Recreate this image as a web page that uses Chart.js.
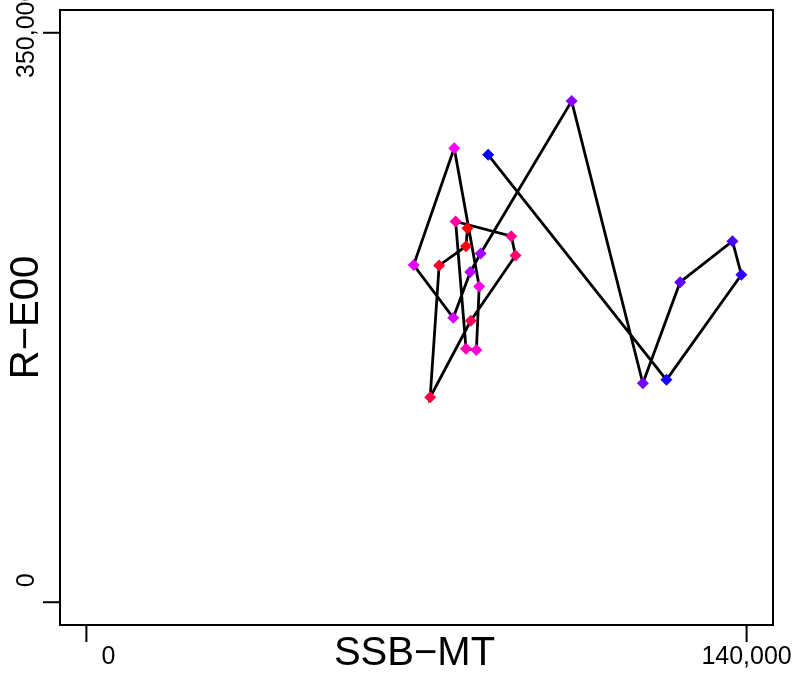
<!DOCTYPE html>
<html>
<head>
<meta charset="utf-8">
<script src="https://cdn.jsdelivr.net/npm/chart.js@4.4.0/dist/chart.umd.min.js"></script>
<style>
  body { margin: 0; background: #fff; }
  #wrap { width: 796px; height: 675px; }
</style>
</head>
<body>
<div id="wrap"><canvas id="phaseChart" width="796" height="675"></canvas></div>
<script>
// SSB (x) vs recruitment (y), one point per year, joined in time order
var ssb = [85200, 123000, 138900, 137000, 125900, 118000, 102900, 83600, 81400, 77800,
           69400, 78000, 83300, 82700, 80500, 78300, 90100, 91000, 81500, 72900,
           74800, 80500, 80800];
var rec = [275000, 136700, 201300, 221900, 196700, 134600, 308000, 214300, 202900, 174800,
           207200, 279100, 194100, 155000, 155800, 234000, 225000, 213100, 173000, 126000,
           207000, 218800, 229900];

var xTicks = [0, 140000];
var yTicks = [0, 350000];
var xTitle = 'SSB\u2212MT';
var yTitle = 'R\u2212E00';

// blue -> magenta -> red, like colorRampPalette
function ramp(n) {
  var out = [];
  var half = (n - 1) / 2;
  for (var i = 0; i < n; i++) {
    var r, b;
    if (i <= half) { r = Math.round(255 * i / half); b = 255; }
    else { r = 255; b = Math.round(255 * (n - 1 - i) / half); }
    out.push('rgb(' + r + ',0,' + b + ')');
  }
  return out;
}
var pointColors = ramp(ssb.length);

var pts = [];
for (var i = 0; i < ssb.length; i++) {
  pts.push({x: ssb[i], y: rec[i]});
}

function fmt(v) {
  return v.toLocaleString('en-US');
}

// R-style box, tick marks and labels
var axesPlugin = {
  id: 'rAxes',
  afterDraw: function(chart) {
    var ctx = chart.ctx;
    var a = chart.chartArea;
    var xs = chart.scales.x, ys = chart.scales.y;
    ctx.save();
    ctx.strokeStyle = '#000';
    ctx.lineWidth = 2;
    ctx.strokeRect(a.left, a.top, a.right - a.left, a.bottom - a.top);

    ctx.fillStyle = '#000';
    ctx.font = '25px "Liberation Sans", Arial, sans-serif';
    ctx.textBaseline = 'middle';
    ctx.textAlign = 'center';

    xTicks.forEach(function(v, k) {
      var px = xs.getPixelForValue(v);
      ctx.beginPath();
      ctx.moveTo(px, a.bottom);
      ctx.lineTo(px, a.bottom + 17);
      ctx.stroke();
      var lx = (k == 0) ? px + 22 : px;
      ctx.fillText(fmt(v), lx, 657);
    });

    yTicks.forEach(function(v, k) {
      var py = ys.getPixelForValue(v);
      ctx.beginPath();
      ctx.moveTo(a.left, py);
      ctx.lineTo(a.left - 17, py);
      ctx.stroke();
      var ly = (k == 0) ? py - 22 : py;
      ctx.save();
      ctx.translate(27, ly);
      ctx.rotate(-Math.PI / 2);
      ctx.fillText(fmt(v), 0, 0);
      ctx.restore();
    });

    ctx.font = '40px "Liberation Sans", Arial, sans-serif';
    ctx.fillText(xTitle, (a.left + a.right) / 2 - 2, 654);
    ctx.save();
    ctx.translate(27, (a.top + a.bottom) / 2);
    ctx.rotate(-Math.PI / 2);
    ctx.fillText(yTitle, 0, 0);
    ctx.restore();
    ctx.restore();
  }
};

var ctx = document.getElementById('phaseChart').getContext('2d');
var chart = new Chart(ctx, {
  type: 'scatter',
  data: {
    datasets: [{
      data: pts,
      showLine: true,
      borderColor: '#000',
      borderWidth: 2.8,
      tension: 0,
      pointStyle: 'rectRot',
      pointRadius: 6,
      pointBorderWidth: 0,
      pointBackgroundColor: pointColors,
      pointBorderColor: pointColors
    }]
  },
  options: {
    responsive: false,
    animation: false,
    layout: { padding: { left: 60, top: 10, right: 23, bottom: 50 } },
    plugins: { legend: { display: false }, tooltip: { enabled: false } },
    scales: {
      x: { type: 'linear', display: false, min: -5600, max: 145600 },
      y: { type: 'linear', display: false, min: -14000, max: 364000 }
    }
  },
  plugins: [axesPlugin]
});
</script>
</body>
</html>
